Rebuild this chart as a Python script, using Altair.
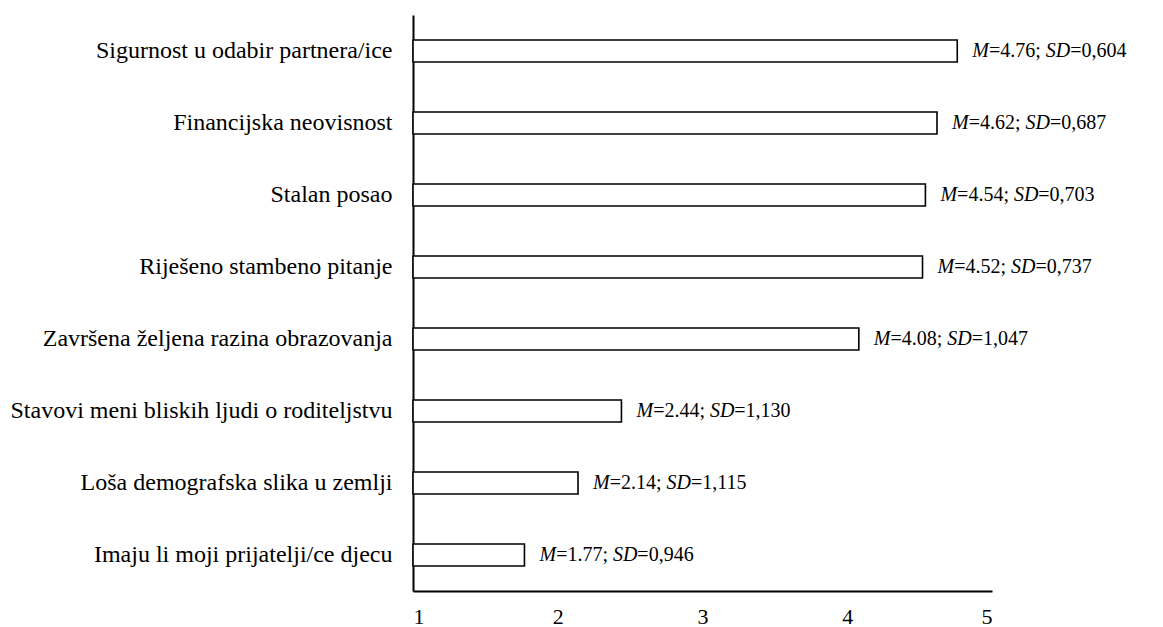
import altair as alt
import pandas as pd

categories = [
    "Sigurnost u odabir partnera/ice",
    "Financijska neovisnost",
    "Stalan posao",
    "Riješeno stambeno pitanje",
    "Završena željena razina obrazovanja",
    "Stavovi meni bliskih ljudi o roditeljstvu",
    "Loša demografska slika u zemlji",
    "Imaju li moji prijatelji/ce djecu",
]
means = [4.76, 4.62, 4.54, 4.52, 4.08, 2.44, 2.14, 1.77]
sds = ["0,604", "0,687", "0,703", "0,737", "1,047", "1,130", "1,115", "0,946"]
x_ticks = [1, 2, 3, 4, 5]

df = pd.DataFrame({"cat": categories, "mean": means, "sd": sds})
df["eq_m"] = ["=" + f"{m:.2f}" + "; " for m in means]
df["eq_sd"] = ["=" + s for s in sds]
df["lab_m"] = "M"
df["lab_sd"] = "SD"

FONT = "Liberation Serif"
FS = 20

base = alt.Chart(df)

y_enc = alt.Y(
    "cat:N",
    sort=categories,
    scale=alt.Scale(paddingInner=0, paddingOuter=0),
    axis=alt.Axis(
        title=None,
        ticks=False,
        domainColor="black",
        domainWidth=2,
        labelFont=FONT,
        labelFontSize=24,
        labelColor="black",
        labelPadding=21,
        labelLimit=600,
    ),
)
y_plain = alt.Y("cat:N", sort=categories)
x_enc = alt.X(
    "mean:Q",
    scale=alt.Scale(domain=[1, 5], zero=False, nice=False),
    axis=alt.Axis(
        title=None,
        values=x_ticks,
        format="d",
        ticks=False,
        grid=False,
        domainColor="black",
        domainWidth=2,
        labelFont=FONT,
        labelFontSize=22,
        labelColor="black",
        labelPadding=15,
    ),
)

bars = base.mark_bar(size=22, fill="white", stroke="black", strokeWidth=1.6).encode(
    y=y_enc, x=x_enc, x2=alt.datum(1)
)

txt = dict(font=FONT, fontSize=FS, color="black", align="left", baseline="middle")
t1 = base.mark_text(dx=15, fontStyle="italic", **txt).encode(y=y_plain, x="mean:Q", text="lab_m:N")
t2 = base.mark_text(dx=31.7, **txt).encode(y=y_plain, x="mean:Q", text="eq_m:N")
t3 = base.mark_text(dx=88.5, fontStyle="italic", **txt).encode(y=y_plain, x="mean:Q", text="lab_sd:N")
t4 = base.mark_text(dx=112.9, **txt).encode(y=y_plain, x="mean:Q", text="eq_sd:N")

chart = (
    alt.layer(bars, t1, t2, t3, t4)
    .properties(
        width=579,
        height=576,
        padding={"left": 405, "top": 7, "right": 160, "bottom": 40},
        autosize=alt.AutoSizeParams(type="none"),
    )
    .configure_view(stroke=None)
)

chart.save("out.html", embed_options={"renderer": "svg", "actions": False})
